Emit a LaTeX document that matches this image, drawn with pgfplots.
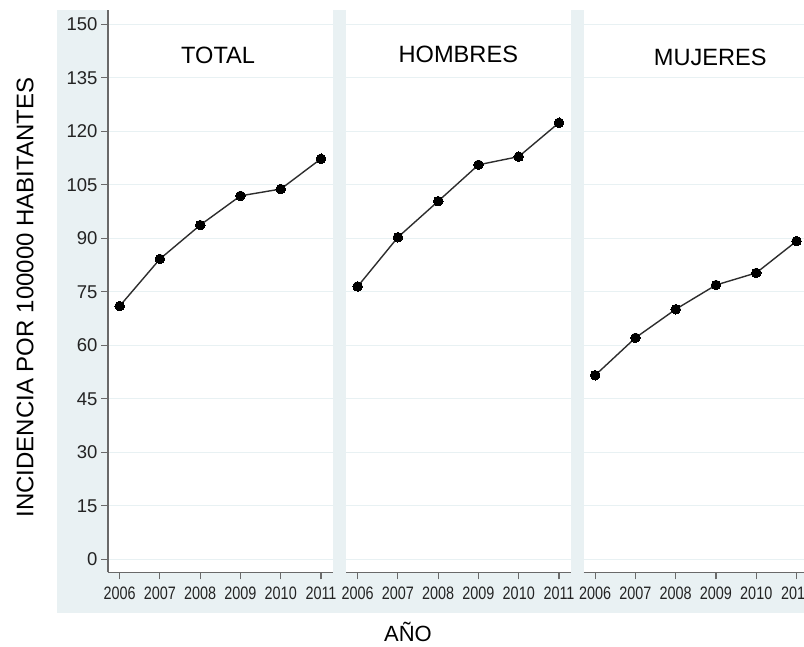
\documentclass[border=0pt]{standalone}
\usepackage{fontspec}
\setmainfont{Liberation Sans}
\usepackage{graphicx}
\usepackage{pgfplots}
\pgfplotsset{compat=1.18}

\definecolor{bgblue}{RGB}{233,241,243}
\definecolor{gridblue}{RGB}{232,241,243}
\definecolor{axgray}{RGB}{105,105,105}
\definecolor{ticktxt}{RGB}{35,35,35}
\definecolor{linegray}{RGB}{45,45,45}

\pgfplotsset{
  panel/.style={
    scale only axis,
    width=224.7bp, height=562.3bp,
    anchor=south west,
    xmin=2005.71, xmax=2011.29,
    ymin=-3.64, ymax=154,
    xtick={2006,2007,2008,2009,2010,2011},
    ytick={0,15,...,150},
    axis x line*=bottom, axis y line*=left,
    axis line style={axgray, line width=1.2pt},
    tick style={axgray, line width=1.1pt},
    tick align=outside,
    major tick length=7bp,
    ymajorgrids,
    grid style={gridblue, line width=1.2pt},
    axis background/.style={fill=white},
    /pgf/number format/assume math mode=true,
    /pgf/number format/1000 sep={},
    xticklabel={\scalebox{0.8}[1]{\pgfmathprintnumber{\tick}}},
    xticklabel style={font=\fontsize{18bp}{18bp}\selectfont, text=ticktxt, yshift=-4bp},
    yticklabel style={font=\fontsize{18.5bp}{18.5bp}\selectfont, text=ticktxt},
    clip=false,
  },
  series/.style={linegray, line width=1.4pt, mark=*, mark size=4.8bp,
    mark options={fill=black, draw=black, line width=0pt}},
  notitley/.style={y axis line style={draw=none}, ytick style={draw=none}, yticklabels={}},
}

\begin{document}
\begin{tikzpicture}
\fill[bgblue] (57bp,34bp) rectangle (815bp,637bp);

% TOTAL
\begin{axis}[panel, at={(108bp,74.7bp)}]
\addplot[series] coordinates {
(2006,71.0) (2007,84.2) (2008,93.7) (2009,101.9) (2010,103.8) (2011,112.3)
};
\node[font=\fontsize{23.6bp}{23.6bp}\selectfont] at (rel axis cs:0.49,0.919) {TOTAL};
\end{axis}

% HOMBRES
\begin{axis}[panel, notitley, at={(346bp,74.7bp)}]
\addplot[series] coordinates {
(2006,76.5) (2007,90.3) (2008,100.4) (2009,110.6) (2010,112.9) (2011,122.4)
};
\node[font=\fontsize{23.6bp}{23.6bp}\selectfont] at (rel axis cs:0.5,0.921) {HOMBRES};
\end{axis}

% MUJERES
\begin{axis}[panel, notitley, at={(583.5bp,74.7bp)}]
\addplot[series] coordinates {
(2006,51.6) (2007,62.1) (2008,70.1) (2009,76.9) (2010,80.3) (2011,89.2)
};
\node[font=\fontsize{23.6bp}{23.6bp}\selectfont] at (rel axis cs:0.564,0.915) {MUJERES};
\end{axis}

\node[rotate=90, font=\fontsize{24bp}{24bp}\selectfont] at (25bp,349.5bp) {INCIDENCIA POR 100000 HABITANTES};
\node[font=\fontsize{22bp}{22bp}\selectfont] at (408bp,15bp) {AÑO};

\pgfresetboundingbox
\path (0,0) rectangle (804bp,647bp);
\end{tikzpicture}
\end{document}
